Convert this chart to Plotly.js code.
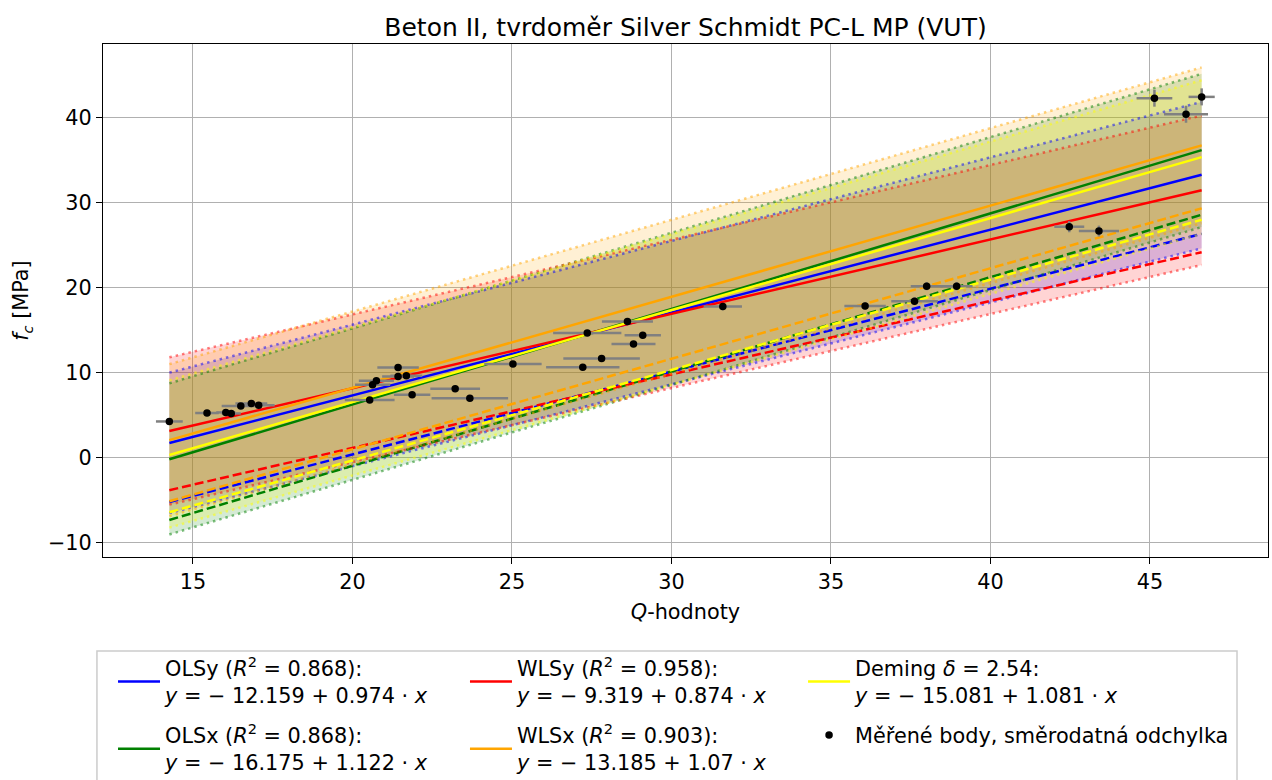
<!DOCTYPE html>
<html>
<head>
<meta charset="utf-8">
<script src="https://cdn.plot.ly/plotly-3.0.1.min.js"></script>
<style>html,body{margin:0;padding:0;background:#fff;}#chart{width:1272px;height:780px;}</style>
</head>
<body>
<div id="chart"></div>
<script>
// Measured points (Q-value, fc) with standard deviations
const xPts = [14.26, 15.44, 16.03, 16.20, 16.50, 16.83, 17.06, 20.54, 20.63, 20.75, 21.43, 21.43, 21.69, 21.87, 23.22, 23.68, 25.03, 27.22, 27.36, 27.81, 28.62, 28.81, 29.10, 31.61, 36.07, 37.62, 38.00, 38.94, 42.47, 43.40, 45.14, 46.13, 46.62];
const yPts = [4.27, 5.26, 5.33, 5.21, 6.08, 6.39, 6.16, 6.79, 8.59, 9.06, 10.62, 9.56, 9.65, 7.41, 8.12, 6.98, 11.02, 10.63, 14.67, 11.65, 16.00, 13.37, 14.39, 17.76, 17.84, 18.40, 20.16, 20.16, 27.14, 26.63, 42.24, 40.35, 42.39];
const xErr = [0.42, 0.37, 0.30, 0.30, 0.60, 0.50, 0.50, 0.78, 0.55, 0.55, 0.65, 0.50, 0.50, 0.57, 0.78, 1.20, 0.90, 1.15, 1.07, 1.20, 0.80, 0.69, 0.57, 0.60, 0.65, 0.73, 0.50, 0.50, 0.47, 0.63, 0.56, 0.69, 0.41];
const yErr = [0.10, 0.13, 0.13, 0.13, 0.15, 0.15, 0.15, 0.16, 0.20, 0.22, 0.25, 0.23, 0.23, 0.18, 0.20, 0.17, 0.26, 0.26, 0.35, 0.28, 0.38, 0.32, 0.35, 0.43, 0.43, 0.44, 0.48, 0.48, 0.65, 0.64, 1.00, 1.00, 1.00];

// Regression methods
const methods    = ['OLSy', 'OLSx', 'WLSy', 'WLSx', 'Deming'];
const colors     = ['#0000ff', '#008000', '#ff0000', '#ffa500', '#ffff00'];
const intercepts = [-12.159, -16.175, -9.319, -13.185, -15.081];
const slopes     = [0.974, 1.122, 0.874, 1.07, 1.081];
const r2Labels   = ['0.868', '0.868', '0.958', '0.903', ''];
const demingDelta = '2.54';
// Band edges (dotted) and dashed lines at left / right end of data range
const upperLeft  = [10.0, 8.75, 11.8, 11.0, 9.1];
const upperRight = [41.8, 45.1, 40.2, 45.85, 44.35];
const lowerLeft  = [-6.5, -9.0, -5.5, -6.85, -8.2];
const lowerRight = [24.6, 27.1, 22.65, 27.55, 26.3];
const dashLeft   = [-5.2, -7.3, -3.8, -5.1, -6.4];
const dashRight  = [26.3, 28.55, 24.15, 29.3, 27.96];
const legendOf   = ['legend', 'legend', 'legend2', 'legend2', 'legend3'];
const fillOrder  = [0, 2, 1, 3, 4];

const xTicks = [15, 20, 25, 30, 35, 40, 45];
const yTicks = [-10, 0, 10, 20, 30, 40];

const FONT = 'DejaVu Sans, sans-serif';
const FS = 20.8;
const xEnds = [Math.min(...xPts), Math.max(...xPts)];

function rgba(hex, a) {
  const r = parseInt(hex.slice(1, 3), 16), g = parseInt(hex.slice(3, 5), 16), b = parseInt(hex.slice(5, 7), 16);
  return `rgba(${r},${g},${b},${a})`;
}
function label(i) {
  const sign = intercepts[i] < 0 ? '−' : '';
  const eq = `<i>y</i> = ${sign} ${Math.abs(intercepts[i])} + ${slopes[i]} · <i>x</i>`;
  if (methods[i] === 'Deming') return `Deming <i>δ</i> = ${demingDelta}:<br>${eq}`;
  return `${methods[i]} (<i>R</i><sup>2</sup> = ${r2Labels[i]}):<br>${eq}`;
}

const traces = [];
// fills first (drawn under all lines)
fillOrder.forEach(i => {
  traces.push({x: xEnds, y: [lowerLeft[i], lowerRight[i]], mode: 'lines', line: {width: 0, color: colors[i]},
    showlegend: false, hoverinfo: 'skip'});
  traces.push({x: xEnds, y: [upperLeft[i], upperRight[i]], mode: 'lines', line: {width: 0, color: colors[i]},
    fill: 'tonexty', fillcolor: rgba(colors[i], 0.17), showlegend: false, hoverinfo: 'skip'});
});
// lines
methods.forEach((m, i) => {
  traces.push({x: xEnds, y: xEnds.map(x => intercepts[i] + slopes[i] * x), mode: 'lines',
    line: {color: colors[i], width: 2.5}, name: label(i), legend: legendOf[i], legendgroup: m});
  traces.push({x: xEnds, y: [dashLeft[i], dashRight[i]], mode: 'lines',
    line: {color: colors[i], width: 2.5, dash: '9px,4px'}, showlegend: false});
  traces.push({x: xEnds, y: [upperLeft[i], upperRight[i]], mode: 'lines',
    line: {color: rgba(colors[i], 0.5), width: 2.5, dash: '2.5px,4px'}, showlegend: false});
  traces.push({x: xEnds, y: [lowerLeft[i], lowerRight[i]], mode: 'lines',
    line: {color: rgba(colors[i], 0.5), width: 2.5, dash: '2.5px,4px'}, showlegend: false});
});
// measured points
traces.push({x: xPts, y: yPts, mode: 'markers', name: 'Měřené body, směrodatná odchylka',
  marker: {color: 'black', size: 7.5},
  error_x: {type: 'data', array: xErr, color: 'gray', thickness: 2.5, width: 0},
  error_y: {type: 'data', array: yErr, color: 'gray', thickness: 2.5, width: 0},
  legend: 'legend3', legendgroup: 'pts'});

const legendBase = {
  orientation: 'v', xanchor: 'left', yanchor: 'top', bgcolor: 'rgba(0,0,0,0)', borderwidth: 0,
  font: {family: FONT, size: FS, color: 'black'}, valign: 'middle', tracegroupgap: 10,
  itemwidth: 42, itemclick: false
};
const legY = -0.1774;

const layout = {
  width: 1272, height: 780,
  margin: {l: 103, r: 4, t: 44, b: 223, autoexpand: false},
  paper_bgcolor: 'white', plot_bgcolor: 'white',
  font: {family: FONT, color: 'black'},
  title: {text: 'Beton II, tvrdoměr Silver Schmidt PC-L MP (VUT)', font: {family: FONT, size: 25, color: 'black'},
    x: 0.5, xref: 'paper', xanchor: 'center', y: 1, yref: 'paper', yanchor: 'bottom', pad: {b: 8}},
  xaxis: {range: [12.18, 48.7], tickvals: xTicks, ticktext: xTicks.map(String),
    showgrid: true, gridcolor: '#b0b0b0', gridwidth: 1, zeroline: false,
    showline: true, linecolor: 'black', linewidth: 1, mirror: true,
    ticks: 'outside', ticklen: 6, tickcolor: 'black', tickfont: {family: FONT, size: FS},
    title: {text: '<i>Q</i>-hodnoty', font: {family: FONT, size: FS}, standoff: 11}},
  yaxis: {range: [-11.65, 48.6], tickvals: yTicks, ticktext: yTicks.map(v => v < 0 ? '−' + Math.abs(v) : String(v)),
    showgrid: true, gridcolor: '#b0b0b0', gridwidth: 1, zeroline: false,
    showline: true, linecolor: 'black', linewidth: 1, mirror: true,
    ticks: 'outside', ticklen: 6, tickcolor: 'black', tickfont: {family: FONT, size: FS},
    title: {text: '<i>f<sub>c</sub></i> [MPa]', font: {family: FONT, size: FS}, standoff: 13}},
  legend:  Object.assign({}, legendBase, {x: 0.0086, y: legY}),
  legend2: Object.assign({}, legendBase, {x: 0.3107, y: legY}),
  legend3: Object.assign({}, legendBase, {x: 0.6009, y: legY}),
  shapes: [{type: 'rect', xref: 'paper', yref: 'paper', x0: -0.0052, x1: 0.9734, y0: -0.48, y1: -0.1832,
    line: {color: '#cccccc', width: 1.5}, fillcolor: 'white', layer: 'below'}],
  showlegend: true
};

Plotly.newPlot('chart', traces, layout, {displayModeBar: false, responsive: false});
</script>
</body>
</html>
